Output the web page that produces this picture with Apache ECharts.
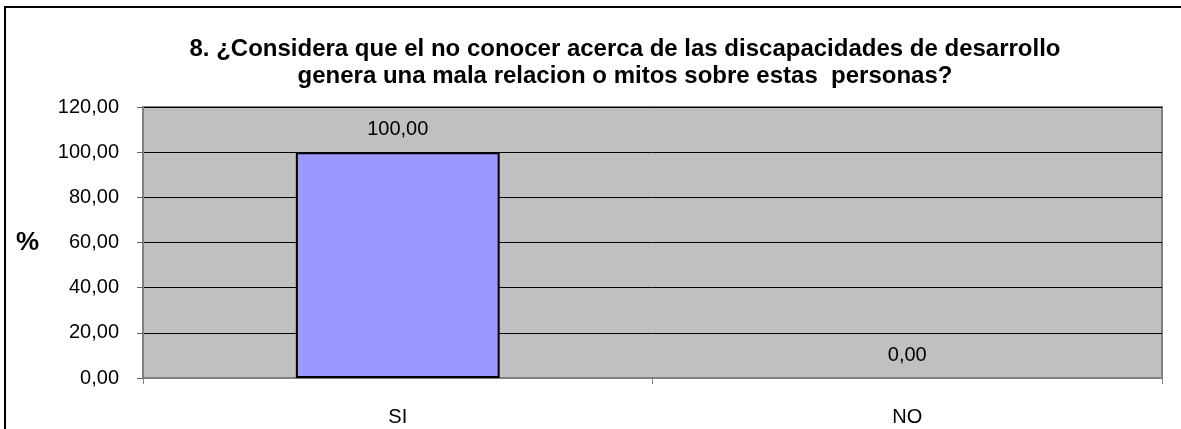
<!DOCTYPE html>
<html>
<head>
<meta charset="utf-8">
<script src="https://cdn.jsdelivr.net/npm/echarts@6/dist/echarts.min.js"></script>
<style>
  html, body { margin: 0; padding: 0; background: #fff; overflow: hidden; }
  #frame {
    position: absolute; left: 4px; top: 6px; width: 1220px; height: 460px;
    border: 2px solid #000; box-sizing: border-box;
  }
  #chart { position: absolute; left: 0; top: 0; width: 1181px; height: 429px; }
</style>
</head>
<body>
<div id="frame"></div>
<div id="chart"></div>
<script>
// datos del gráfico
const categories = ['SI', 'NO'];
const values = [100, 0];
const yTicks = { min: 0, max: 120, step: 20 };
const titleLines = [
    '8. ¿Considera que el no conocer acerca de las discapacidades de desarrollo',
    'genera una mala relacion o mitos sobre estas  personas?'
];

const fmt = v => Number(v).toFixed(2).replace('.', ',');
const FONT = 'Liberation Sans, Arial, sans-serif';

const chart = echarts.init(document.getElementById('chart'), null, { renderer: 'canvas' });

// barra con valor 0: sin borde (no se ve nada en el original)
const barData = values.map(v => ({
    value: v,
    itemStyle: v === 0 ? { borderWidth: 0 } : {}
}));

chart.setOption({
    animation: false,
    title: {
        text: titleLines.join('\n'),
        left: 620,
        top: 31,
        textAlign: 'center',
        textStyle: { fontFamily: FONT, fontSize: 24, fontWeight: 'bold', color: '#000', lineHeight: 27 }
    },
    grid: {
        left: 143, right: 19, top: 107, bottom: 51,
        show: true,
        backgroundColor: '#C0C0C0',
        borderColor: '#808080',
        borderWidth: 2
    },
    xAxis: {
        type: 'category',
        data: categories,
        axisLine: { lineStyle: { color: '#808080', width: 2 } },
        axisTick: { show: true, length: 6, inside: false, lineStyle: { color: '#808080' } },
        axisLabel: { margin: 29, fontFamily: FONT, fontSize: 20, color: '#000' }
    },
    yAxis: {
        type: 'value',
        min: yTicks.min,
        max: yTicks.max,
        interval: yTicks.step,
        name: '%',
        nameLocation: 'middle',
        nameRotate: 0,
        nameGap: 104,
        nameTextStyle: { fontFamily: FONT, fontSize: 26, fontWeight: 'bold', color: '#000' },
        axisLine: { show: true, lineStyle: { color: '#808080', width: 2 } },
        axisTick: { show: true, length: 6, lineStyle: { color: '#666' } },
        splitLine: { lineStyle: { color: '#000', width: 1 } },
        axisLabel: {
            margin: 24,
            fontFamily: FONT, fontSize: 20, color: '#000',
            formatter: v => fmt(v)
        }
    },
    series: [{
        type: 'bar',
        data: barData,
        barWidth: '40%',
        itemStyle: { color: '#9999FF', borderColor: '#000', borderWidth: 2 },
        label: {
            show: true,
            position: 'top',
            distance: 13,
            fontFamily: FONT, fontSize: 20, color: '#000',
            formatter: p => fmt(p.value)
        }
    }]
});
</script>
</body>
</html>
